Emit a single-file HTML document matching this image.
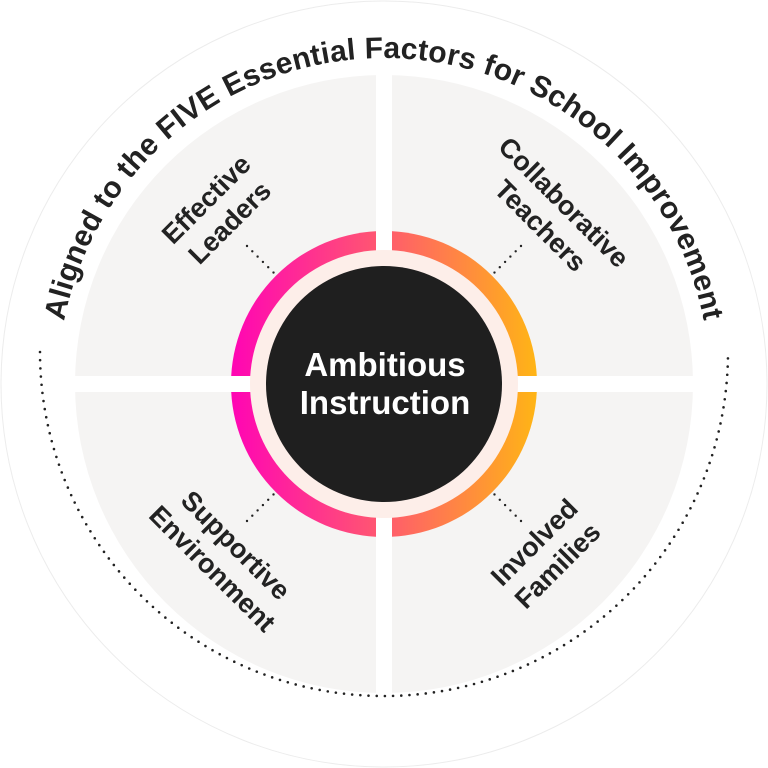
<!DOCTYPE html>
<html><head><style>html,body{margin:0;padding:0;background:#fff}svg{display:block}</style></head>
<body>
<svg width="768" height="768" viewBox="0 0 768 768" xmlns="http://www.w3.org/2000/svg" font-family="Liberation Sans, Arial, sans-serif" font-weight="bold">
<defs>
<linearGradient id="g" x1="231" y1="0" x2="537" y2="0" gradientUnits="userSpaceOnUse">
<stop offset="0" stop-color="#ff05b4"/><stop offset="0.5" stop-color="#ff5a6e"/><stop offset="1" stop-color="#ffb515"/>
</linearGradient>
<path id="arc" d="M 69 468 A 326 326 0 1 1 699 468"/>
</defs>
<circle cx="384" cy="384" r="383" fill="#fff" stroke="#ececec" stroke-width="1"/>
<circle cx="384" cy="384" r="309" fill="#f5f4f3"/>
<rect x="376" y="70" width="16" height="630" fill="#fff"/>
<rect x="70" y="376" width="630" height="16" fill="#fff"/>
<path d="M 40 352 A 344 344 0 1 0 728 352" fill="none" stroke="#222" stroke-width="2.6" stroke-linecap="round" stroke-dasharray="0 8.2"/>
<text font-size="30" fill="#222" letter-spacing="0.2"><textPath href="#arc" startOffset="50%" text-anchor="middle">Aligned to the FIVE Essential Factors for School Improvement</textPath></text>
<circle cx="384" cy="384" r="153" fill="url(#g)"/>
<rect x="376" y="225" width="16" height="320" fill="#fff"/>
<rect x="225" y="376" width="320" height="16" fill="#fff"/>
<circle cx="384" cy="384" r="134" fill="#fdeee9"/>
<circle cx="384" cy="384" r="118" fill="#1f1f1f"/>
<text x="385" y="376" font-size="33" fill="#fff" text-anchor="middle">Ambitious</text>
<text x="385" y="414" font-size="33" fill="#fff" text-anchor="middle">Instruction</text>
<g stroke="#222" stroke-width="2.4" stroke-linecap="round" stroke-dasharray="0 7.5" fill="none">
<line x1="247" y1="246" x2="276" y2="275"/>
<line x1="521" y1="246" x2="492" y2="275"/>
<line x1="247" y1="521" x2="276" y2="492"/>
<line x1="521" y1="521" x2="492" y2="492"/>
</g>
<g font-size="27" fill="#222" text-anchor="middle">
<g transform="translate(217,210) rotate(-45)"><text y="-6">Effective</text><text y="27">Leaders</text></g>
<g transform="translate(553,213) rotate(45)"><text y="-6">Collaborative</text><text y="27">Teachers</text></g>
<g transform="translate(225,556) rotate(45)"><text y="-6">Supportive</text><text y="27">Environment</text></g>
<g transform="translate(545,553) rotate(-45)"><text y="-6">Involved</text><text y="27">Families</text></g>
</g>
</svg>
</body></html>
